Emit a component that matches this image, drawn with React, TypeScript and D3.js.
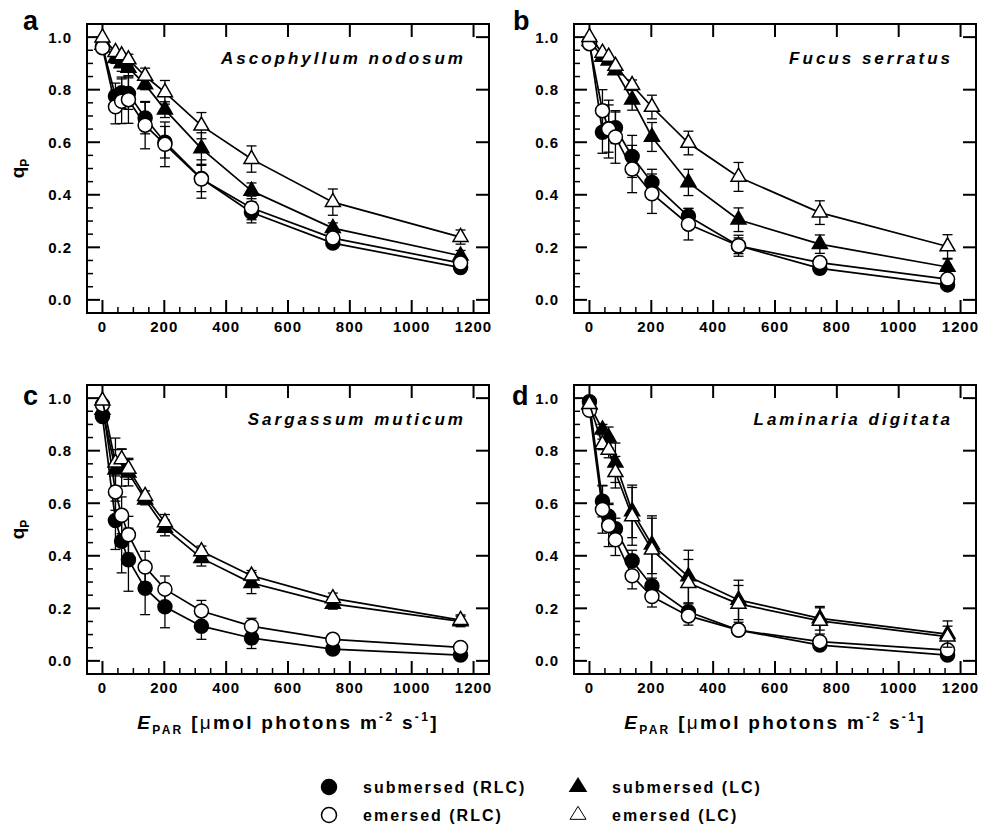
import React from "react";
import * as d3 from "d3";

// ---------- DATA ----------
const xPAR = [0, 42, 62, 84, 138, 202, 320, 482, 745, 1158];

const xTicks = [0, 200, 400, 600, 800, 1000, 1200];
const yTicks = [0.0, 0.2, 0.4, 0.6, 0.8, 1.0];

const panelLetters = ["a", "b", "c", "d"];
const speciesNames = ["Ascophyllum nodosum", "Fucus serratus", "Sargassum muticum", "Laminaria digitata"];
const seriesNames = ["submersed (RLC)", "submersed (LC)", "emersed (RLC)", "emersed (LC)"];

// Panel a – Ascophyllum nodosum
const aSubRLC = [0.965, 0.775, 0.788, 0.785, 0.692, 0.6, 0.462, 0.333, 0.216, 0.123];
const aSubRLCErr = [0.01, 0.05, 0.06, 0.06, 0.06, 0.06, 0.05, 0.04, 0.02, 0.01];
const aSubLC = [0.97, 0.92, 0.9, 0.883, 0.82, 0.724, 0.576, 0.415, 0.273, 0.168];
const aSubLCErr = [0.01, 0.02, 0.03, 0.03, 0.02, 0.03, 0.06, 0.03, 0.02, 0.02];
const aEmRLC = [0.96, 0.735, 0.756, 0.762, 0.665, 0.592, 0.46, 0.35, 0.235, 0.14];
const aEmRLCErr = [0.01, 0.065, 0.085, 0.09, 0.09, 0.085, 0.073, 0.045, 0.02, 0.01];
const aEmLC = [0.998, 0.943, 0.93, 0.915, 0.852, 0.79, 0.663, 0.536, 0.372, 0.239];
const aEmLCErr = [0.0, 0.01, 0.01, 0.02, 0.03, 0.045, 0.05, 0.05, 0.05, 0.027];

// Panel b – Fucus serratus
const bSubRLC = [0.98, 0.638, 0.652, 0.655, 0.546, 0.447, 0.318, 0.206, 0.12, 0.057];
const bSubRLCErr = [0.01, 0.08, 0.09, 0.06, 0.08, 0.05, 0.03, 0.03, 0.02, 0.01];
const bSubLC = [0.985, 0.925, 0.91, 0.873, 0.762, 0.62, 0.447, 0.305, 0.212, 0.125];
const bSubLCErr = [0.0, 0.01, 0.01, 0.01, 0.04, 0.055, 0.05, 0.045, 0.035, 0.03];
const bEmRLC = [0.975, 0.72, 0.65, 0.62, 0.498, 0.404, 0.288, 0.206, 0.142, 0.079];
const bEmRLCErr = [0.01, 0.08, 0.11, 0.1, 0.09, 0.075, 0.06, 0.04, 0.02, 0.01];
const bEmLC = [1.0, 0.94, 0.925, 0.89, 0.817, 0.734, 0.597, 0.468, 0.332, 0.203];
const bEmLCErr = [0.0, 0.01, 0.01, 0.01, 0.02, 0.045, 0.045, 0.055, 0.045, 0.045];

// Panel c – Sargassum muticum
const cSubRLC = [0.93, 0.534, 0.455, 0.385, 0.276, 0.206, 0.132, 0.087, 0.045, 0.022];
const cSubRLCErr = [0.01, 0.11, 0.12, 0.12, 0.1, 0.08, 0.05, 0.04, 0.02, 0.01];
const cSubLC = [0.955, 0.728, 0.735, 0.716, 0.614, 0.506, 0.391, 0.296, 0.217, 0.15];
const cSubLCErr = [0.01, 0.12, 0.07, 0.05, 0.02, 0.03, 0.03, 0.04, 0.02, 0.02];
const cEmRLC = [0.975, 0.643, 0.554, 0.48, 0.357, 0.273, 0.19, 0.132, 0.082, 0.051];
const cEmRLCErr = [0.01, 0.07, 0.07, 0.07, 0.06, 0.05, 0.04, 0.03, 0.01, 0.01];
const cEmLC = [0.99, 0.754, 0.767, 0.731, 0.627, 0.527, 0.417, 0.324, 0.238, 0.155];
const cEmLCErr = [0.0, 0.05, 0.04, 0.04, 0.02, 0.03, 0.02, 0.02, 0.02, 0.02];

// Panel d – Laminaria digitata
const dSubRLC = [0.986, 0.608, 0.55, 0.503, 0.381, 0.285, 0.187, 0.117, 0.06, 0.022];
const dSubRLCErr = [0.01, 0.06, 0.05, 0.04, 0.04, 0.03, 0.03, 0.02, 0.01, 0.01];
const dSubLC = [0.975, 0.88, 0.85, 0.754, 0.569, 0.442, 0.321, 0.232, 0.162, 0.102];
const dSubLCErr = [0.01, 0.02, 0.04, 0.075, 0.1, 0.11, 0.1, 0.075, 0.045, 0.05];
const dEmRLC = [0.954, 0.576, 0.515, 0.461, 0.324, 0.245, 0.171, 0.117, 0.073, 0.041];
const dEmRLCErr = [0.01, 0.09, 0.08, 0.06, 0.05, 0.04, 0.035, 0.02, 0.01, 0.01];
const dEmLC = [0.977, 0.824, 0.803, 0.718, 0.55, 0.423, 0.296, 0.217, 0.152, 0.092];
const dEmLCErr = [0.01, 0.02, 0.03, 0.06, 0.11, 0.12, 0.09, 0.07, 0.05, 0.04];

const panelSeries = [
  [[aSubRLC, aSubRLCErr], [aSubLC, aSubLCErr], [aEmRLC, aEmRLCErr], [aEmLC, aEmLCErr]],
  [[bSubRLC, bSubRLCErr], [bSubLC, bSubLCErr], [bEmRLC, bEmRLCErr], [bEmLC, bEmLCErr]],
  [[cSubRLC, cSubRLCErr], [cSubLC, cSubLCErr], [cEmRLC, cEmRLCErr], [cEmLC, cEmLCErr]],
  [[dSubRLC, dSubRLCErr], [dSubLC, dSubLCErr], [dEmRLC, dEmRLCErr], [dEmLC, dEmLCErr]],
];

// ---------- LAYOUT ----------
const FONT = "'Liberation Sans', Arial, Helvetica, sans-serif";
const PW = 402;
const PH = 289;
const layout = [
  { left: 87, top: 24, yLabel: true, xLabel: false, letterX: 23, letterY: 30 },
  { left: 574, top: 24, yLabel: false, xLabel: false, letterX: 513, letterY: 30 },
  { left: 87, top: 385, yLabel: true, xLabel: true, letterX: 23, letterY: 405 },
  { left: 574, top: 385, yLabel: false, xLabel: true, letterX: 512, letterY: 405 },
];
// marker kinds per series: filled circle, filled triangle, open circle, open triangle
const markerKind = [
  { shape: "circle", fill: "#000" },
  { shape: "triangle", fill: "#000" },
  { shape: "circle", fill: "#fff" },
  { shape: "triangle", fill: "#fff" },
];

function triPath(cx: number, cy: number, w: number, h: number) {
  return `M${cx},${cy - (h * 2) / 3} L${cx + w / 2},${cy + h / 3} L${cx - w / 2},${cy + h / 3} Z`;
}

function Marker({ kind, cx, cy, sw = 1.5, r = 7, tw = 15, th = 13 }: any) {
  if (kind.shape === "circle") {
    return <circle cx={cx} cy={cy} r={r} fill={kind.fill} stroke="#000" strokeWidth={sw} />;
  }
  return <path d={triPath(cx, cy, tw, th)} fill={kind.fill} stroke="#000" strokeWidth={sw} strokeLinejoin="miter" />;
}

function Panel({ idx }: { idx: number }) {
  const L = layout[idx];
  const x = d3.scaleLinear().domain([-50, 1250]).range([L.left, L.left + PW]);
  const y = d3.scaleLinear().domain([-0.05, 1.05]).range([L.top + PH, L.top]);
  const line = d3
    .line<number>()
    .x((_, i) => x(xPAR[i]))
    .y((v) => y(v));
  const bottom = L.top + PH;
  const right = L.left + PW;
  const xMinor = d3.range(0, 1201, 50).filter((v) => v % 200 !== 0);
  const yMinor = d3.range(0, 21, 1).map((k) => k * 0.05).filter((_, k) => k % 4 !== 0);
  const series = panelSeries[idx];
  const cx = L.left + PW / 2;

  return (
    <g>
      {/* frame */}
      <rect x={L.left} y={L.top} width={PW} height={PH} fill="none" stroke="#000" strokeWidth={2} />
      {/* x ticks */}
      {xTicks.map((t) => (
        <g key={"xt" + t}>
          <line x1={x(t)} x2={x(t)} y1={bottom} y2={bottom - 13} stroke="#000" strokeWidth={2} />
          <line x1={x(t)} x2={x(t)} y1={L.top} y2={L.top + 13} stroke="#000" strokeWidth={2} />
          <text x={x(t)} y={bottom + 19} textAnchor="middle" fontFamily={FONT} fontWeight="bold" fontSize={15} letterSpacing={1}>
            {t}
          </text>
        </g>
      ))}
      {xMinor.map((t) => (
        <line key={"xm" + t} x1={x(t)} x2={x(t)} y1={bottom} y2={bottom - 6} stroke="#000" strokeWidth={1.5} />
      ))}
      {/* y ticks */}
      {yTicks.map((t) => (
        <g key={"yt" + t}>
          <line x1={L.left} x2={L.left + 13} y1={y(t)} y2={y(t)} stroke="#000" strokeWidth={2} />
          <line x1={right} x2={right - 13} y1={y(t)} y2={y(t)} stroke="#000" strokeWidth={2} />
          <text x={L.left - 15} y={y(t) + 5.5} textAnchor="end" fontFamily={FONT} fontWeight="bold" fontSize={15} letterSpacing={1}>
            {t.toFixed(1)}
          </text>
        </g>
      ))}
      {yMinor.map((t, i) => (
        <line key={"ym" + i} x1={L.left} x2={L.left + 6} y1={y(t)} y2={y(t)} stroke="#000" strokeWidth={1.5} />
      ))}
      {/* series */}
      {series.map(([vals, errs], s) => (
        <g key={"s" + s}>
          {vals.map((v, i) =>
            errs[i] > 0.012 ? (
              <g key={"e" + i} stroke="#000" strokeWidth={1.3}>
                <line x1={x(xPAR[i])} x2={x(xPAR[i])} y1={y(v - errs[i])} y2={y(v + errs[i])} />
                <line x1={x(xPAR[i]) - 5} x2={x(xPAR[i]) + 5} y1={y(v - errs[i])} y2={y(v - errs[i])} />
                <line x1={x(xPAR[i]) - 5} x2={x(xPAR[i]) + 5} y1={y(v + errs[i])} y2={y(v + errs[i])} />
              </g>
            ) : null
          )}
          <path d={line(vals) || ""} fill="none" stroke="#000" strokeWidth={1.7} />
          {vals.map((v, i) => (
            <Marker key={"m" + i} kind={markerKind[s]} cx={x(xPAR[i])} cy={y(v)} />
          ))}
        </g>
      ))}
      {/* title */}
      <text x={right - 23} y={L.top + 40} textAnchor="end" fontFamily={FONT} fontWeight="bold" fontStyle="italic" fontSize={17} letterSpacing={3}>
        {speciesNames[idx]}
      </text>
      {/* panel letter */}
      <text x={L.letterX} y={L.letterY} fontFamily={FONT} fontWeight="bold" fontSize={27}>
        {panelLetters[idx]}
      </text>
      {/* y label */}
      {L.yLabel && (
        <text transform={`translate(${24},${L.top + PH / 2}) rotate(-90)`} textAnchor="middle" fontFamily={FONT} fontWeight="bold" fontSize={19}>
          q<tspan fontSize={12} dy={5}>P</tspan>
        </text>
      )}
      {/* x label */}
      {L.xLabel && (
        <text x={cx} y={bottom + 55} textAnchor="middle" fontFamily={FONT} fontWeight="bold" fontSize={19} letterSpacing={2.3}>
          <tspan fontStyle="italic">E</tspan>
          <tspan fontSize={12} dy={5}>PAR</tspan>
          <tspan dy={-5}> [</tspan>
          <tspan fontWeight="normal">μ</tspan>
          <tspan>mol photons m</tspan>
          <tspan fontSize={12} dy={-8}>-2</tspan>
          <tspan dy={8}> s</tspan>
          <tspan fontSize={12} dy={-8}>-1</tspan>
          <tspan dy={8}>]</tspan>
        </text>
      )}
    </g>
  );
}

function Legend() {
  const rows = [
    { s: 0, x: 329, y: 787 },
    { s: 2, x: 329, y: 815 },
    { s: 1, x: 578, y: 787 },
    { s: 3, x: 578, y: 815 },
  ];
  return (
    <g>
      {rows.map((r) => (
        <g key={"lg" + r.s}>
          <Marker kind={markerKind[r.s]} cx={r.x} cy={r.y} r={7.5} tw={16} th={13} sw={r.s === 3 ? 1 : 1.5} />
          <text x={r.x + 34} y={r.y + 6} fontFamily={FONT} fontWeight="bold" fontSize={16} letterSpacing={2}>
            {seriesNames[r.s]}
          </text>
        </g>
      ))}
    </g>
  );
}

export default function App() {
  return (
    <svg width={994} height={828} style={{ display: "block", position: "absolute", left: 0, top: 0, background: "#fff" }}>
      <rect x={0} y={0} width={994} height={828} fill="#fff" />
      {[0, 1, 2, 3].map((i) => (
        <Panel key={i} idx={i} />
      ))}
      <Legend />
    </svg>
  );
}
